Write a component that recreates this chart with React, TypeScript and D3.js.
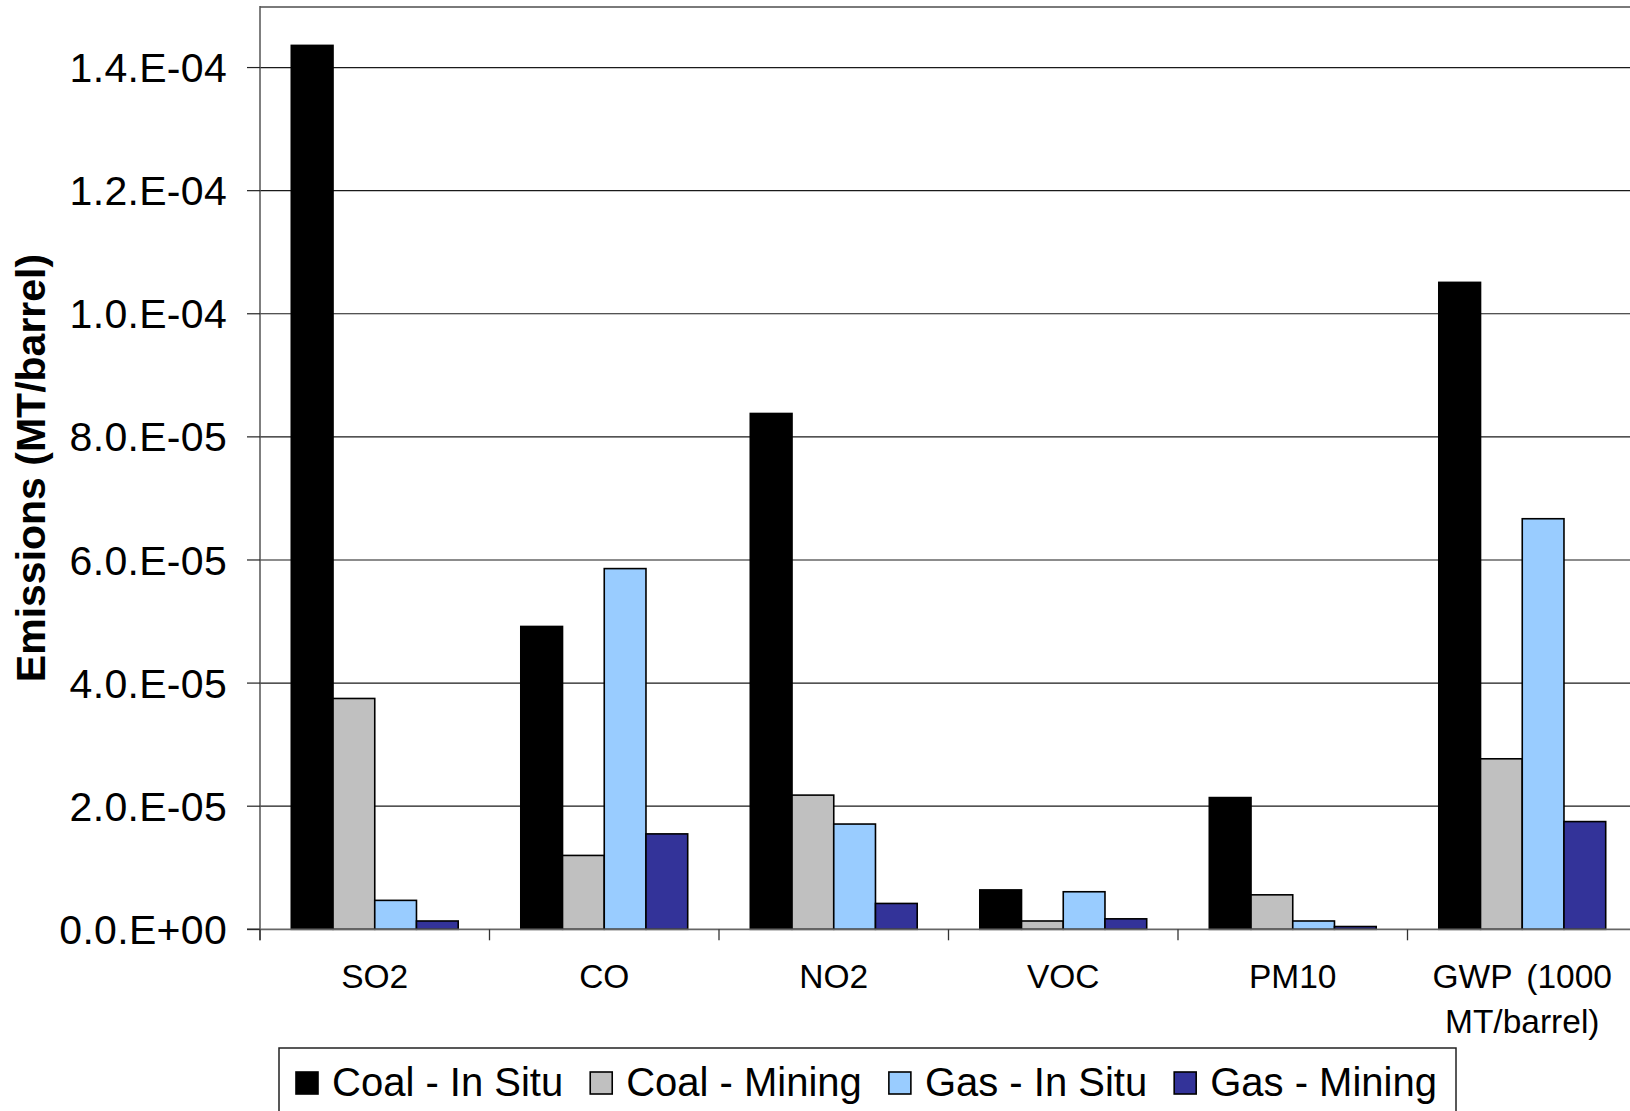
import React, { useEffect, useRef } from 'react';
import * as d3 from 'd3';

// Emission categories along the x axis
const categories = ['SO2', 'CO', 'NO2', 'VOC', 'PM10', 'GWP (1000 MT/barrel)'];

// Series names and fills
const seriesNames = ['Coal - In Situ', 'Coal - Mining', 'Gas - In Situ', 'Gas - Mining'];
const seriesColors = ['#000000', '#C0C0C0', '#99CCFF', '#333399'];

// Emissions in MT per barrel, one value per category
const coalInSitu = [1.436e-4, 4.92e-5, 8.38e-5, 6.4e-6, 2.14e-5, 1.051e-4];
const coalMining = [3.75e-5, 1.2e-5, 2.18e-5, 1.35e-6, 5.6e-6, 2.77e-5];
const gasInSitu = [4.7e-6, 5.86e-5, 1.71e-5, 6.1e-6, 1.35e-6, 6.67e-5];
const gasMining = [1.35e-6, 1.55e-5, 4.2e-6, 1.7e-6, 4.5e-7, 1.75e-5];

// Value axis
const yMax = 1.5e-4;
const yTickValues = [0, 2e-5, 4e-5, 6e-5, 8e-5, 1e-4, 1.2e-4, 1.4e-4];
const yTickLabels = ['0.0.E+00', '2.0.E-05', '4.0.E-05', '6.0.E-05', '8.0.E-05', '1.0.E-04', '1.2.E-04', '1.4.E-04'];
const yTitle = 'Emissions (MT/barrel)';

const W = 1630;
const H = 1111;
const FONT = "'Liberation Sans', Arial, Helvetica, sans-serif";

export default function App() {
  const ref = useRef<SVGSVGElement>(null);

  useEffect(() => {
    const svg = d3.select(ref.current);
    svg.selectAll('*').remove();

    const series = [coalInSitu, coalMining, gasInSitu, gasMining];

    const plotLeft = 260;
    const plotTop = 6;
    const plotBottom = 929.3;
    const bandW = 229.5;

    const x = d3
      .scaleBand<string>()
      .domain(categories)
      .range([plotLeft, plotLeft + bandW * categories.length])
      .paddingInner(0)
      .paddingOuter(0);

    const xSeries = d3
      .scaleBand<number>()
      .domain(d3.range(series.length))
      .range([0, x.bandwidth()])
      .paddingInner(0)
      .paddingOuter(0.75);

    const y = d3.scaleLinear().domain([0, yMax]).range([plotBottom, plotTop]);

    // horizontal gridlines
    svg
      .append('g')
      .selectAll('line')
      .data(yTickValues.filter((v) => v > 0))
      .join('line')
      .attr('x1', plotLeft)
      .attr('x2', W)
      .attr('y1', (d) => y(d))
      .attr('y2', (d) => y(d))
      .attr('stroke', '#1a1a1a')
      .attr('stroke-width', 1.2);

    // bars
    const groups = svg
      .append('g')
      .selectAll('g')
      .data(series)
      .join('g')
      .attr('fill', (_, i) => seriesColors[i]);

    groups
      .selectAll('rect')
      .data((vals, si) => vals.map((v, ci) => ({ v, ci, si })))
      .join('rect')
      .attr('x', (d) => (x(categories[d.ci]) as number) + (xSeries(d.si) as number))
      .attr('width', xSeries.bandwidth())
      .attr('y', (d) => y(d.v))
      .attr('height', (d) => y(0) - y(d.v))
      .attr('stroke', '#000')
      .attr('stroke-width', 1.6);

    // plot frame: top border, left axis line, bottom axis line
    svg
      .append('line')
      .attr('x1', plotLeft)
      .attr('x2', W)
      .attr('y1', plotTop + 1)
      .attr('y2', plotTop + 1)
      .attr('stroke', '#7a7a7a')
      .attr('stroke-width', 2);

    svg
      .append('line')
      .attr('x1', plotLeft)
      .attr('x2', plotLeft)
      .attr('y1', plotTop)
      .attr('y2', plotBottom + 11)
      .attr('stroke', '#555')
      .attr('stroke-width', 1.5);

    svg
      .append('line')
      .attr('x1', plotLeft - 13)
      .attr('x2', W)
      .attr('y1', plotBottom)
      .attr('y2', plotBottom)
      .attr('stroke', '#666')
      .attr('stroke-width', 1.8);

    // value axis ticks and labels
    const yAxis = svg.append('g');
    yAxis
      .selectAll('line')
      .data(yTickValues)
      .join('line')
      .attr('x1', plotLeft - 13)
      .attr('x2', plotLeft)
      .attr('y1', (d) => y(d))
      .attr('y2', (d) => y(d))
      .attr('stroke', '#222')
      .attr('stroke-width', 1.2);

    yAxis
      .selectAll('text')
      .data(yTickValues)
      .join('text')
      .attr('x', 227)
      .attr('y', (d) => y(d))
      .attr('dy', '0.355em')
      .attr('text-anchor', 'end')
      .attr('font-family', FONT)
      .attr('font-size', 41)
      .attr('letter-spacing', 0.3)
      .attr('fill', '#000')
      .text((_, i) => yTickLabels[i]);

    // category tick marks at band boundaries
    const boundaries = d3.range(categories.length + 1).map((i) => plotLeft + i * x.step());
    svg
      .append('g')
      .selectAll('line')
      .data(boundaries)
      .join('line')
      .attr('x1', (d) => d)
      .attr('x2', (d) => d)
      .attr('y1', plotBottom)
      .attr('y2', plotBottom + 11)
      .attr('stroke', '#333')
      .attr('stroke-width', 1.3);

    // category labels, wrapped to the band width
    const catG = svg.append('g');
    categories.forEach((cat) => {
      const cx = (x(cat) as number) + x.bandwidth() / 2;
      const t = catG
        .append('text')
        .attr('x', cx)
        .attr('y', 988)
        .attr('text-anchor', 'middle')
        .attr('font-family', FONT)
        .attr('font-size', 33.5)
        .attr('word-spacing', 5)
        .attr('fill', '#000');
      const words = cat.split(' ');
      let line: string[] = [];
      let lineNo = 0;
      let tspan = t.append('tspan').attr('x', cx).attr('y', 988);
      words.forEach((w) => {
        line.push(w);
        tspan.text(line.join(' '));
        const node = tspan.node() as SVGTextContentElement;
        if (node.getComputedTextLength() > x.bandwidth() * 0.82 && line.length > 1) {
          line.pop();
          tspan.text(line.join(' '));
          line = [w];
          lineNo += 1;
          tspan = t
            .append('tspan')
            .attr('x', cx)
            .attr('y', 988 + lineNo * 45)
            .text(w);
        }
      });
    });

    // value axis title
    svg
      .append('text')
      .attr('transform', `translate(45, ${(252 + 684) / 2}) rotate(-90)`)
      .attr('text-anchor', 'middle')
      .attr('font-family', FONT)
      .attr('font-weight', 'bold')
      .attr('font-size', 41)
      .attr('fill', '#000')
      .text(yTitle);

    // legend
    const legend = svg.append('g');
    legend
      .append('rect')
      .attr('x', 279)
      .attr('y', 1048)
      .attr('width', 1456 - 279)
      .attr('height', 100)
      .attr('fill', '#fff')
      .attr('stroke', '#222')
      .attr('stroke-width', 1.5);

    let lx = 296;
    seriesNames.forEach((name, i) => {
      legend
        .append('rect')
        .attr('x', lx)
        .attr('y', 1072)
        .attr('width', 22)
        .attr('height', 22)
        .attr('fill', seriesColors[i])
        .attr('stroke', '#000')
        .attr('stroke-width', 1.6);
      const txt = legend
        .append('text')
        .attr('x', lx + 36)
        .attr('y', 1096)
        .attr('font-family', FONT)
        .attr('font-size', 40)
        .attr('fill', '#000')
        .text(name);
      const tw = (txt.node() as SVGTextContentElement).getComputedTextLength();
      lx = lx + 36 + tw + 27;
    });
  }, []);

  return (
    <svg
      ref={ref}
      width={W}
      height={H}
      style={{ position: 'absolute', left: 0, top: 0, background: '#fff' }}
    />
  );
}
